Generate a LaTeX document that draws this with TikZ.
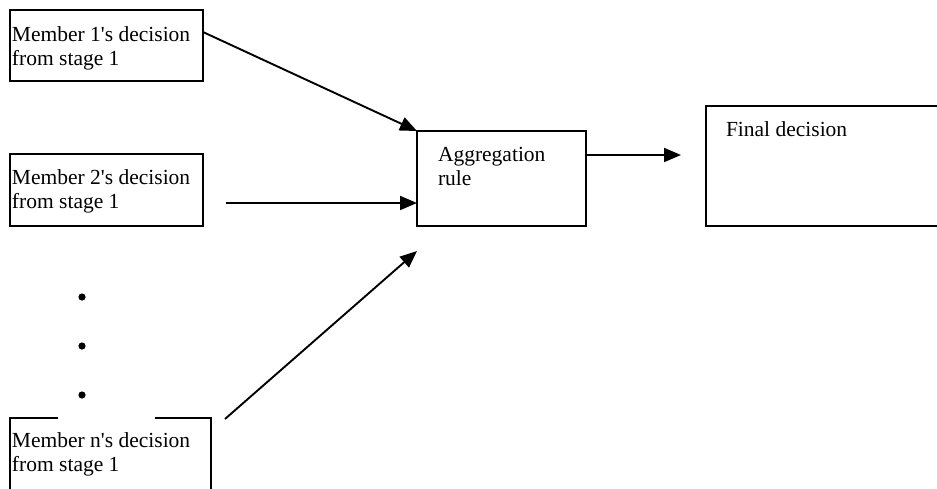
\documentclass[tikz,border=0pt]{standalone}
\usepackage{fontspec}
\setmainfont{Liberation Serif}
\usetikzlibrary{arrows.meta,positioning}

\begin{document}
\begin{tikzpicture}[x=1pt,y=-1pt,
    every node/.style={inner sep=0,outer sep=0},
    box/.style={draw,line width=1.9pt,anchor=north west},
    txt/.style={anchor=base west,align=left,font=\fontsize{21.5}{24.5}\selectfont},
    flow/.style={-{Triangle[length=17pt,width=14pt]},line width=1.9pt}]

    \useasboundingbox (0,0) rectangle (937,488);

    % members (base anchor = last line)
    \node(m1box)[box,minimum width=193pt,minimum height=71pt] at (10,10) {};
    \node(m1)[txt] at ([xshift=2pt,yshift=-55.5pt]m1box.north west) {Member 1\textquotesingle s decision\\from stage 1};
    \node(m2box)[box,minimum width=193pt,minimum height=72pt] at (10,154) {};
    \node(m2)[txt] at ([xshift=2pt,yshift=-54.5pt]m2box.north west) {Member 2\textquotesingle s decision\\from stage 1};
    \node(mnbox)[box,draw=none,minimum width=201pt,minimum height=90pt] at (10,418) {};
    \draw[line width=1.9pt] ([xshift=48pt]mnbox.north west) -- (mnbox.north west) -- (mnbox.south west);
    \draw[line width=1.9pt] ([xshift=-56pt]mnbox.north east) -- (mnbox.north east) -- (mnbox.south east);
    \node(mn)[txt] at ([xshift=2pt,yshift=-53.5pt]mnbox.north west) {Member n\textquotesingle s decision\\from stage 1};

    % dots
    \foreach \y in {297,346,395} \fill (82,\y) circle (3.6pt);

    % aggregation and result
    \node(aggbox)[box,minimum width=169pt,minimum height=95pt] at (417,131) {};
    \node(agg)[txt] at ([xshift=21pt,yshift=-54.5pt]aggbox.north west) {Aggregation\\rule};
    \node(finbox)[box,minimum width=250pt,minimum height=120pt] at (706,106) {};
    \node(fin)[txt] at ([xshift=20pt,yshift=-30pt]finbox.north west) {Final decision};

    \coordinate(s1) at ([yshift=-22pt]m1box.north east);
    \coordinate(s2) at (226,203);
    \coordinate(sn) at (225,419);
    \coordinate(en) at (417,251);
    \coordinate(ef) at (681,155);

    \draw[flow] (s1) -- (aggbox.north west);
    \draw[flow] (s2) -- (s2 -| aggbox.west);
    \draw[flow] (sn) -- (en);
    \draw[flow] (aggbox.east |- ef) -- (ef);
\end{tikzpicture}
\end{document}
